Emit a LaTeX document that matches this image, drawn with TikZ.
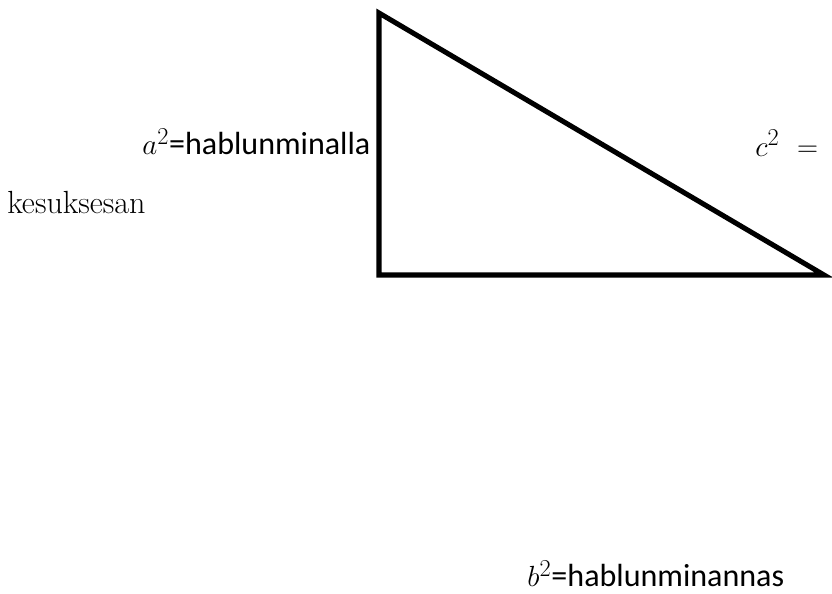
\documentclass[tikz,border=0pt]{standalone}
\usepackage{fontspec}
\usepackage{tikz}
\usetikzlibrary{positioning}
\newfontfamily\calibrilike{Carlito}

\begin{document}
\begin{tikzpicture}[
    sidelabel/.style={anchor=base west, inner sep=0pt, font=\fontsize{22.8}{27}\selectfont\calibrilike},
    seriflabel/.style={anchor=base west, inner sep=0pt, font=\fontsize{22.8}{27}\selectfont},
    edge/.style={line width=3.6pt, draw=black}
]
    \useasboundingbox (0, 0) rectangle (20.8, 14.825);

    \coordinate (top) at (9.475, 14.5);
    \coordinate (corner) at (9.475, 7.95);
    \coordinate (tip) at (20.6, 7.95);
    \draw[edge] (top) -- (corner) -- (tip) -- cycle;

    \node[sidelabel] (la) at (3.55, 10.95) {$a^2$=hablunminalla};
    \node[seriflabel] (lc) at (18.875, 10.92) {$c^2\ =$};
    \node[seriflabel] (lk) at (0.175, 9.475) {kesuksesan};
    \node[sidelabel] (lb) at (13.18, 0.16) {$b^2$=hablunminannas};
\end{tikzpicture}
\end{document}
